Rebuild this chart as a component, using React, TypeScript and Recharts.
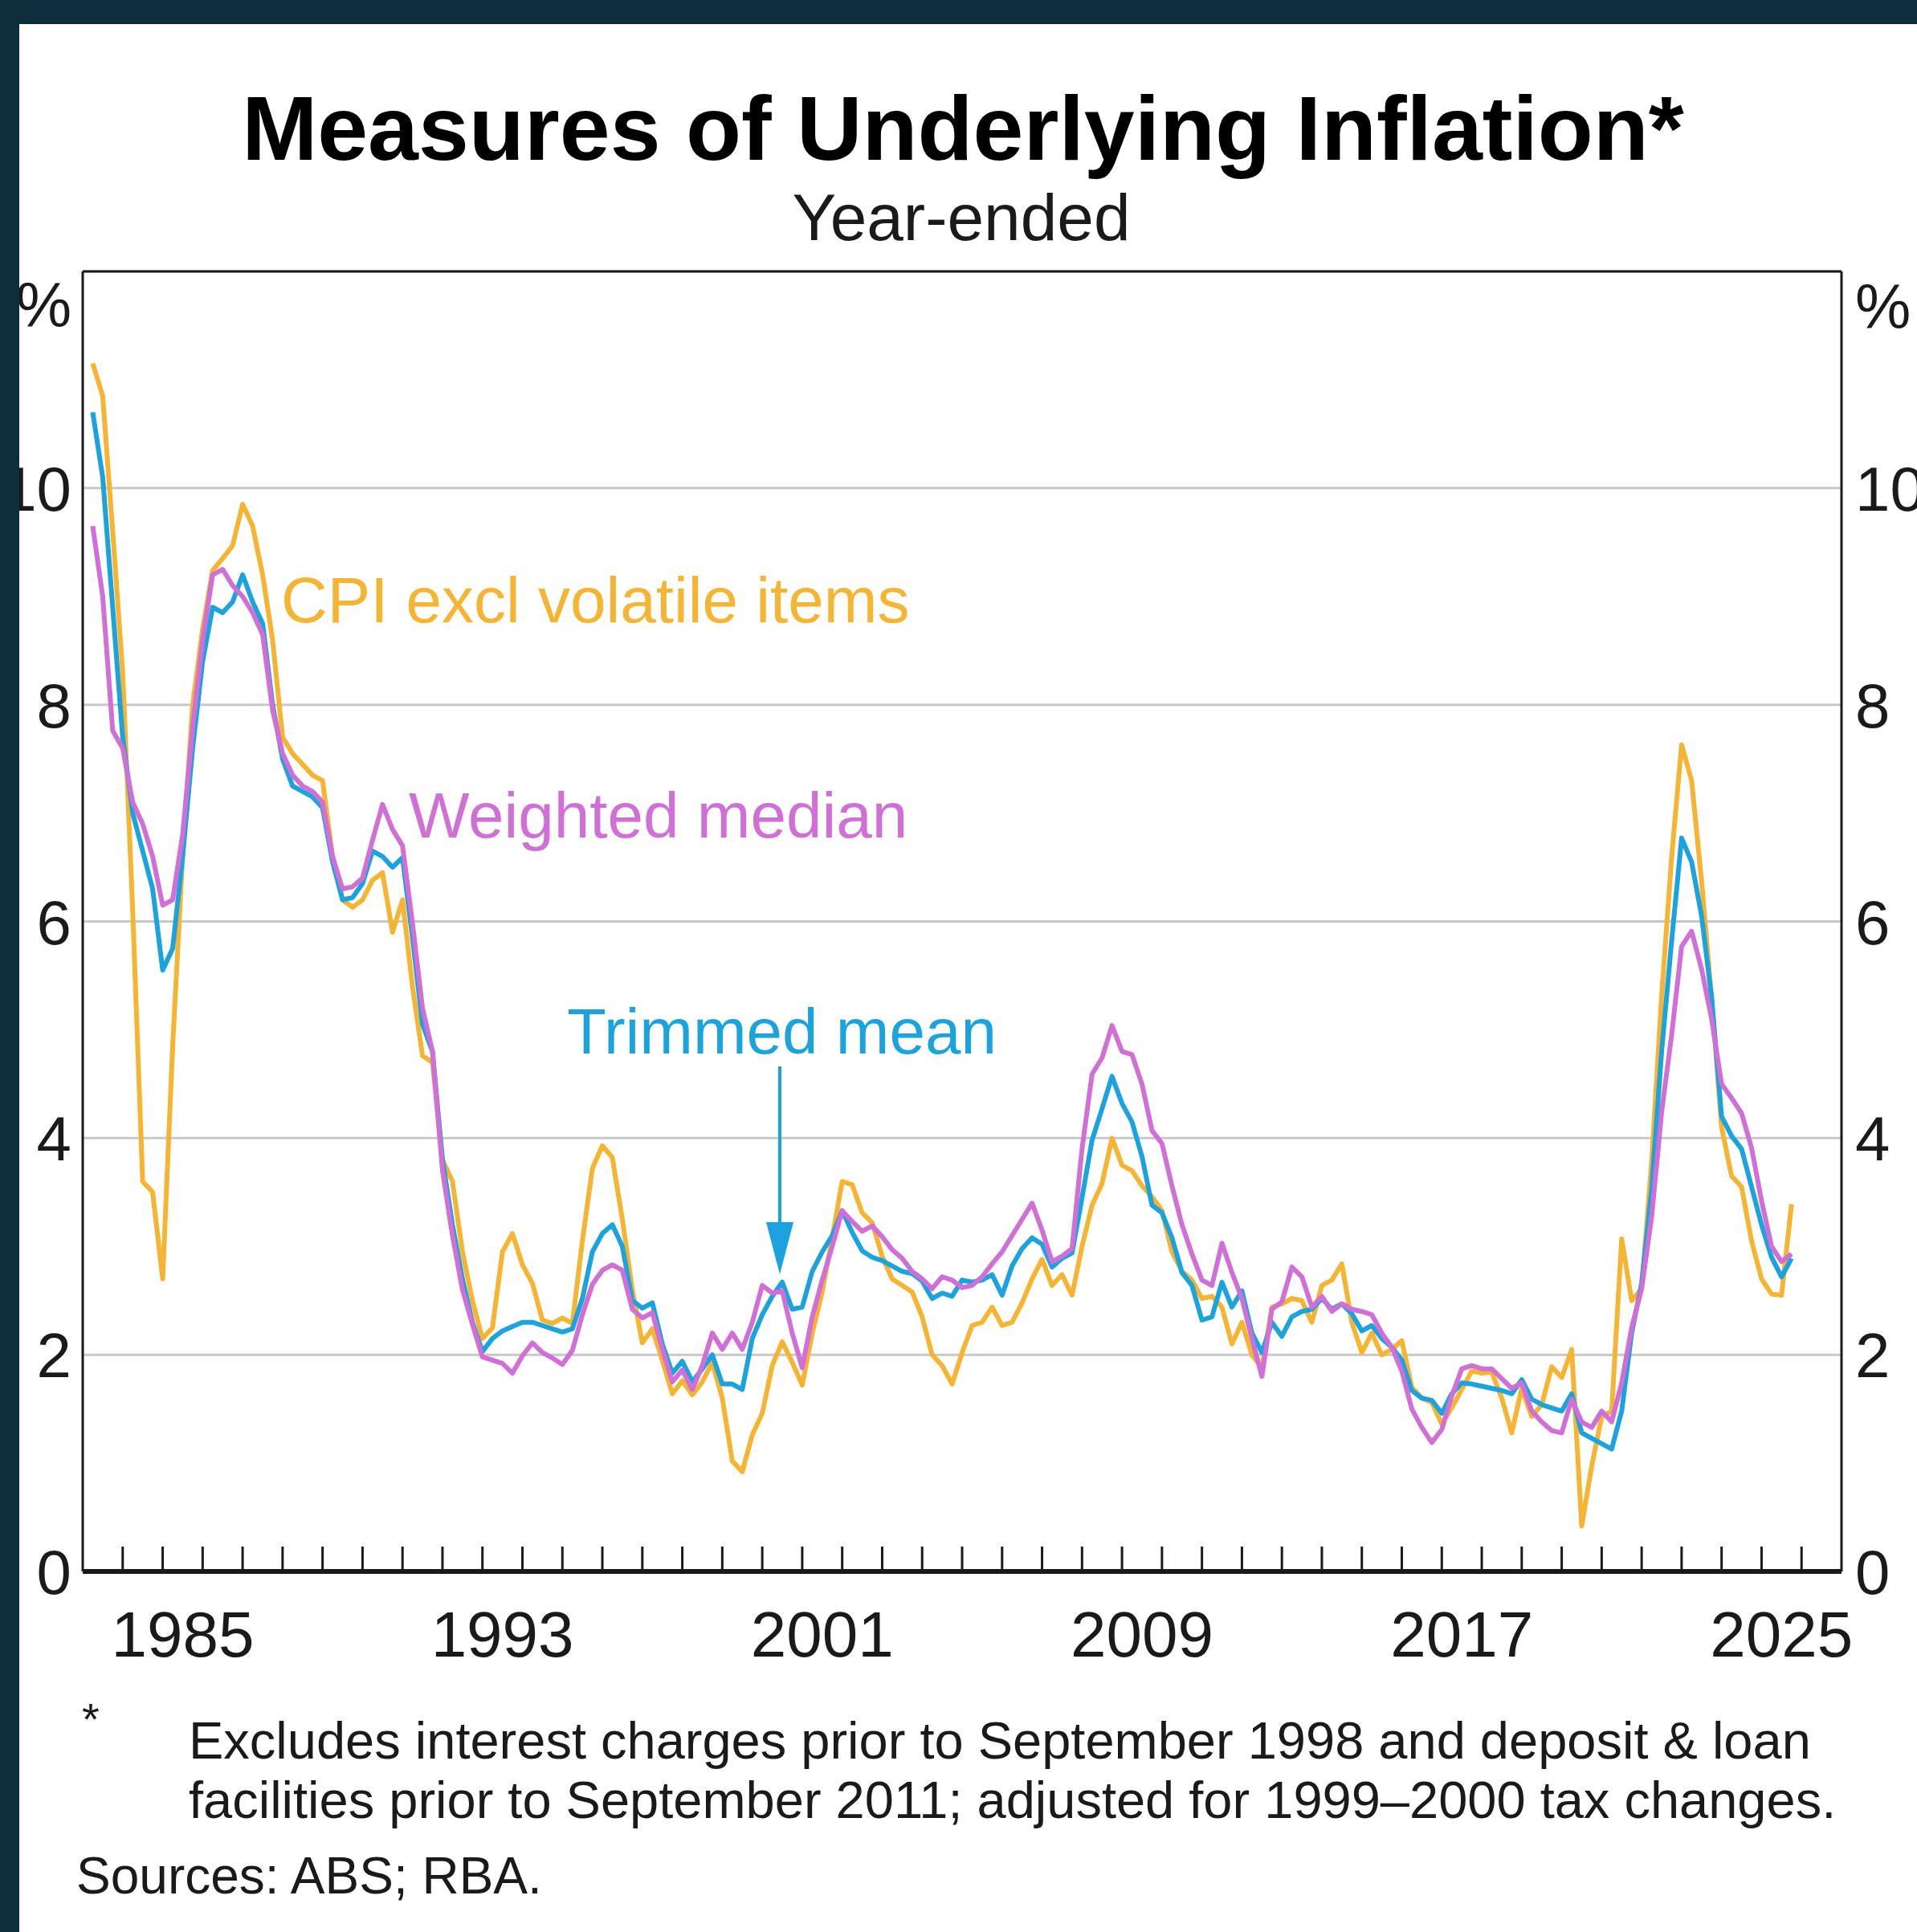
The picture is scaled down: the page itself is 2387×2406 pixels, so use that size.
import { LineChart, Line, XAxis, YAxis, CartesianGrid, ReferenceLine } from 'recharts'

// quarterly, year-ended %, first point Mar-1983 (plotted at 1983.25)
const startYear = 1983.25

const cpiExclVolatile = [
  11.15, 10.85, 9.6, 8.3, 6.1, 3.6, 3.5, 2.7, 4.85, 6.6,
  8.0, 8.7, 9.24, 9.35, 9.47, 9.85, 9.65, 9.2, 8.6, 7.7,
  7.55, 7.45, 7.35, 7.3, 6.6, 6.2, 6.13, 6.2, 6.38, 6.45,
  5.9, 6.2, 5.4, 4.76, 4.7, 3.8, 3.6, 2.95, 2.5, 2.15,
  2.25, 2.95, 3.12, 2.83, 2.66, 2.32, 2.29, 2.34, 2.29, 3.05,
  3.72, 3.93, 3.82, 3.25, 2.6, 2.11, 2.24, 1.95, 1.64, 1.76,
  1.63, 1.75, 1.93, 1.6, 1.02, 0.92, 1.26, 1.46, 1.9, 2.12,
  1.93, 1.72, 2.2, 2.58, 3.08, 3.6, 3.57, 3.31, 3.22, 2.91,
  2.7, 2.64, 2.58, 2.35, 2.0, 1.9, 1.73, 2.02, 2.27, 2.3,
  2.44, 2.27, 2.3, 2.48, 2.7, 2.88, 2.64, 2.74, 2.55, 3.0,
  3.38, 3.58, 4.0, 3.75, 3.7, 3.56, 3.46, 3.33, 2.95, 2.77,
  2.69, 2.52, 2.54, 2.44, 2.1, 2.3, 2.0, 1.88, 2.44, 2.47,
  2.52, 2.5, 2.3, 2.64, 2.69, 2.84, 2.3, 2.02, 2.2, 2.0,
  2.05, 2.13, 1.7, 1.6, 1.56, 1.36, 1.51, 1.68, 1.85, 1.83,
  1.84, 1.6, 1.28, 1.69, 1.43, 1.54, 1.89, 1.79, 2.05, 0.42,
  0.97, 1.43, 1.48, 3.07, 2.5, 2.61, 3.78, 5.31, 6.59, 7.63,
  7.3, 6.37, 5.3, 4.1, 3.65, 3.55, 3.05, 2.7, 2.56, 2.55, 3.39
]

const trimmedMean = [
  10.7, 10.1, 8.9, 7.7, 7.0, 6.65, 6.3, 5.55, 5.75, 6.6,
  7.6, 8.4, 8.9, 8.85, 8.95, 9.2, 8.95, 8.75, 8.0, 7.5,
  7.25, 7.2, 7.15, 7.05, 6.55, 6.2, 6.22, 6.35, 6.65, 6.6,
  6.5, 6.59, 5.85, 5.05, 4.8, 3.8, 3.2, 2.7, 2.3, 2.03,
  2.15, 2.22, 2.26, 2.3, 2.3, 2.27, 2.24, 2.21, 2.24, 2.52,
  2.95, 3.12, 3.2, 3.0, 2.5, 2.43, 2.48, 2.1, 1.83, 1.94,
  1.75, 1.87, 2.0, 1.73, 1.73, 1.68, 2.15, 2.37, 2.54, 2.67,
  2.42, 2.44, 2.77, 2.95, 3.1, 3.33, 3.13, 2.96, 2.9, 2.87,
  2.82, 2.77, 2.75, 2.68, 2.52, 2.57, 2.54, 2.69, 2.67, 2.69,
  2.74, 2.55, 2.82, 2.98, 3.08, 3.02, 2.81, 2.89, 2.94, 3.45,
  3.98, 4.27, 4.57, 4.32, 4.15, 3.83, 3.38, 3.31, 3.08, 2.76,
  2.64, 2.32, 2.35, 2.67, 2.44, 2.59, 2.2, 2.02, 2.3, 2.17,
  2.35, 2.4, 2.42, 2.52, 2.42, 2.47, 2.38, 2.22, 2.27, 2.15,
  2.07, 1.95, 1.67, 1.6, 1.58, 1.46, 1.64, 1.74, 1.73, 1.71,
  1.69, 1.67, 1.64, 1.77, 1.59, 1.54, 1.51, 1.48, 1.64, 1.28,
  1.23, 1.18, 1.13, 1.48, 2.2, 2.66, 3.53, 4.8, 5.82, 6.77,
  6.55, 6.05, 5.3, 4.2, 4.02, 3.9, 3.55, 3.2, 2.9, 2.72, 2.89
]

const weightedMedian = [
  9.65, 9.0, 7.76, 7.6, 7.1, 6.9, 6.6, 6.15, 6.2, 6.8,
  7.8, 8.6, 9.2, 9.25, 9.1, 9.0, 8.85, 8.65, 7.95, 7.55,
  7.35, 7.25, 7.2, 7.1, 6.6, 6.3, 6.32, 6.4, 6.75, 7.08,
  6.85, 6.7, 5.98, 5.2, 4.8, 3.7, 3.1, 2.6, 2.28, 1.98,
  1.95, 1.92, 1.83, 1.99, 2.11, 2.02, 1.97, 1.91, 2.04, 2.37,
  2.65, 2.78, 2.83, 2.78, 2.42, 2.34, 2.39, 2.05, 1.75, 1.86,
  1.68, 1.9, 2.2, 2.05, 2.2, 2.05, 2.3, 2.64, 2.57, 2.59,
  2.2, 1.88, 2.35, 2.69, 3.0, 3.33, 3.23, 3.14, 3.19, 3.09,
  2.97, 2.89, 2.77, 2.7, 2.61, 2.72, 2.69, 2.62, 2.64, 2.72,
  2.84, 2.95, 3.1, 3.25, 3.4, 3.15, 2.86, 2.91, 2.98, 3.9,
  4.59, 4.74, 5.04, 4.8, 4.77, 4.5, 4.07, 3.95, 3.56, 3.2,
  2.93, 2.69, 2.64, 3.03, 2.76, 2.52, 2.15, 1.8, 2.42, 2.49,
  2.81, 2.72, 2.44, 2.54, 2.4, 2.47, 2.42, 2.4, 2.37, 2.2,
  2.07, 1.85, 1.5, 1.33, 1.19, 1.31, 1.62, 1.87, 1.9, 1.87,
  1.87, 1.78, 1.69, 1.74, 1.48, 1.38, 1.3, 1.28, 1.59, 1.38,
  1.33, 1.48, 1.38, 1.74, 2.25, 2.61, 3.27, 4.24, 4.95, 5.77,
  5.91, 5.56, 5.1, 4.5, 4.37, 4.23, 3.91, 3.42, 3.0, 2.86, 2.93
]

const yearLabels = [1985, 1993, 2001, 2009, 2017, 2025]
const yearTicks = Array.from({ length: 43 }, (_, i) => 1984 + i)
const yTicks = [0, 2, 4, 6, 8, 10]

const data = cpiExclVolatile.map((v, i) => ({
  t: startYear + i * 0.25,
  cpi: v,
  trimmed: trimmedMean[i],
  median: weightedMedian[i]
}))

const FONT = '"Liberation Sans", Arial, Helvetica, sans-serif'
const INK = '#1a1a1a'
const YELLOW = '#f6b433'
const BLUE = '#1ba3dd'
const PURPLE = '#d06fd6'
const FRAME = '#0d2e3b'

function XTick(props: any) {
  const { x, y, payload } = props
  const v = payload.value
  if (Number.isInteger(v)) {
    return <line x1={x} x2={x} y1={y} y2={y - 31} stroke={INK} strokeWidth={3} />
  }
  return (
    <text x={x} y={y + 106} textAnchor="middle" fontSize={80} fill={INK} fontFamily={FONT}>
      {Math.floor(v)}
    </text>
  )
}

function YTick(props: any) {
  const { x, y, payload, anchor } = props
  return (
    <text x={x} y={y} dy="0.36em" textAnchor={anchor} fontSize={78} fill={INK} fontFamily={FONT}>
      {payload.value}
    </text>
  )
}

export default function App() {
  const xTicks = [...yearTicks, ...yearLabels.map((y) => y + 0.5)].sort((a, b) => a - b)

  return (
    <div style={{ position: 'absolute', left: 0, top: 0, width: 2387, height: 2406, background: '#fff', overflow: 'hidden' }}>
      <LineChart width={2387} height={2406} data={data} margin={{ top: 338, right: 0, bottom: 0, left: 0 }}>
        <CartesianGrid yAxisId="left" vertical={false} stroke="#c8c8c8" strokeWidth={3} />
        <XAxis
          dataKey="t"
          type="number"
          domain={[1983, 2027]}
          ticks={xTicks}
          interval={0}
          height={449}
          tickSize={0}
          tickMargin={0}
          tickLine={false}
          axisLine={{ stroke: INK, strokeWidth: 6 }}
          tick={(p: any) => <XTick {...p} />}
        />
        <YAxis
          yAxisId="left"
          width={103}
          domain={[0, 12]}
          ticks={yTicks}
          interval={0}
          tickSize={0}
          tickMargin={14}
          tickLine={false}
          axisLine={{ stroke: INK, strokeWidth: 3 }}
          tick={(p: any) => <YTick {...p} anchor="end" />}
        />
        <YAxis
          yAxisId="right"
          orientation="right"
          width={94}
          domain={[0, 12]}
          ticks={yTicks}
          interval={0}
          tickSize={0}
          tickMargin={17}
          tickLine={false}
          axisLine={{ stroke: INK, strokeWidth: 3 }}
          tick={(p: any) => <YTick {...p} anchor="start" />}
        />
        <ReferenceLine yAxisId="left" y={12} stroke={INK} strokeWidth={3} />
        <Line yAxisId="left" type="linear" dataKey="cpi" stroke={YELLOW} strokeWidth={6} dot={false} isAnimationActive={false} strokeLinejoin="round" />
        <Line yAxisId="right" type="linear" dataKey="trimmed" stroke={BLUE} strokeWidth={6} dot={false} isAnimationActive={false} strokeLinejoin="round" />
        <Line yAxisId="left" type="linear" dataKey="median" stroke={PURPLE} strokeWidth={6} dot={false} isAnimationActive={false} strokeLinejoin="round" />
      </LineChart>

      <svg width={2387} height={2406} style={{ position: 'absolute', left: 0, top: 0, pointerEvents: 'none' }} fontFamily={FONT}>
        <text x={1199} y={199} textAnchor="middle" fontSize={113} fontWeight="bold" fill="#000">
          Measures of Underlying Inflation*
        </text>
        <text x={1197} y={299} textAnchor="middle" fontSize={82} fill={INK}>
          Year-ended
        </text>
        <text x={89} y={407} textAnchor="end" fontSize={78} fill={INK}>%</text>
        <text x={2310} y={409} textAnchor="start" fontSize={78} fill={INK}>%</text>

        <text x={350} y={775} fontSize={80} fill={YELLOW}>CPI excl volatile items</text>
        <text x={509} y={1043} fontSize={80} fill={PURPLE}>Weighted median</text>
        <text x={706} y={1312} fontSize={80} fill={BLUE}>Trimmed mean</text>
        <line x1={971} x2={971} y1={1328} y2={1530} stroke={BLUE} strokeWidth={4} />
        <polygon points="954,1522 988,1522 971,1587" fill={BLUE} />

        <text x={102} y={2160} fontSize={56} fill={INK}>*</text>
        <text x={235} y={2190} fontSize={65} fill={INK}>
          Excludes interest charges prior to September 1998 and deposit &amp; loan
        </text>
        <text x={235} y={2264} fontSize={65} fill={INK}>
          facilities prior to September 2011; adjusted for 1999–2000 tax changes.
        </text>
        <text x={95} y={2358} fontSize={64} fill={INK}>Sources: ABS; RBA.</text>

        <rect x={0} y={0} width={2387} height={30} fill={FRAME} />
        <rect x={0} y={0} width={24} height={2406} fill={FRAME} />
      </svg>
    </div>
  )
}
